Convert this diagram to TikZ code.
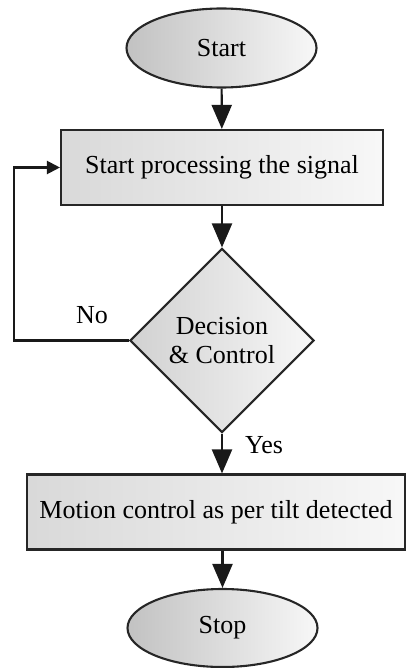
\documentclass[tikz,border=0pt]{standalone}
\usepackage{fontspec}
\setmainfont{Liberation Serif}
\usetikzlibrary{shapes.geometric,arrows.meta}
\tikzset{
  base/.style={draw=black!85, line width=2.1pt, inner sep=0pt, align=center, font=\fontsize{26}{29}\selectfont},
  term/.style={base, ellipse, minimum width=190pt, minimum height=79pt, left color=black!24, right color=black!3},
  proc/.style={base, rectangle, minimum height=75pt, left color=black!15, right color=black!3},
  decide/.style={base, diamond, aspect=1, minimum width=184pt, minimum height=184pt, left color=black!18, right color=black!3},
  flow/.style={draw=black!90, line width=2.1pt, -{Triangle[length=24pt,width=20pt]}},
  back/.style={draw=black!90, line width=2.1pt, -{Triangle[length=13pt,width=13pt]}},
  lbl/.style={inner sep=0pt, font=\fontsize{26}{29}\selectfont}
}
\begin{document}
\begin{tikzpicture}[x=1pt, y=-1pt]
  \useasboundingbox (0,0) rectangle (406,668);
  \node[term] (start) at (221.5,48) {Start};
  \node[proc, minimum width=322pt] (sig) at (222,167.5) {Start processing the signal};
  \node[decide] (dec) at (222,340.5) {Decision\\\& Control};
  \node[proc, minimum width=378pt] (mot) at (216,512) {Motion control as per tilt detected};
  \node[term, minimum height=78pt] (stop) at (222.5,628) {Stop};
  \node[lbl] (no) at (92,315) {No};
  \node[lbl] (yes) at (264,445) {Yes};
  \coordinate (loop) at (14,340.5);

  \draw[flow] (start) -- (sig);
  \draw[flow] (sig) -- (dec);
  \draw[flow] (dec.south) -- (dec.south |- mot.north);
  \draw[flow] (mot.south -| stop) -- (stop.north);
  \draw[back] (dec.west) -- (loop) |- (sig.west);
\end{tikzpicture}
\end{document}
